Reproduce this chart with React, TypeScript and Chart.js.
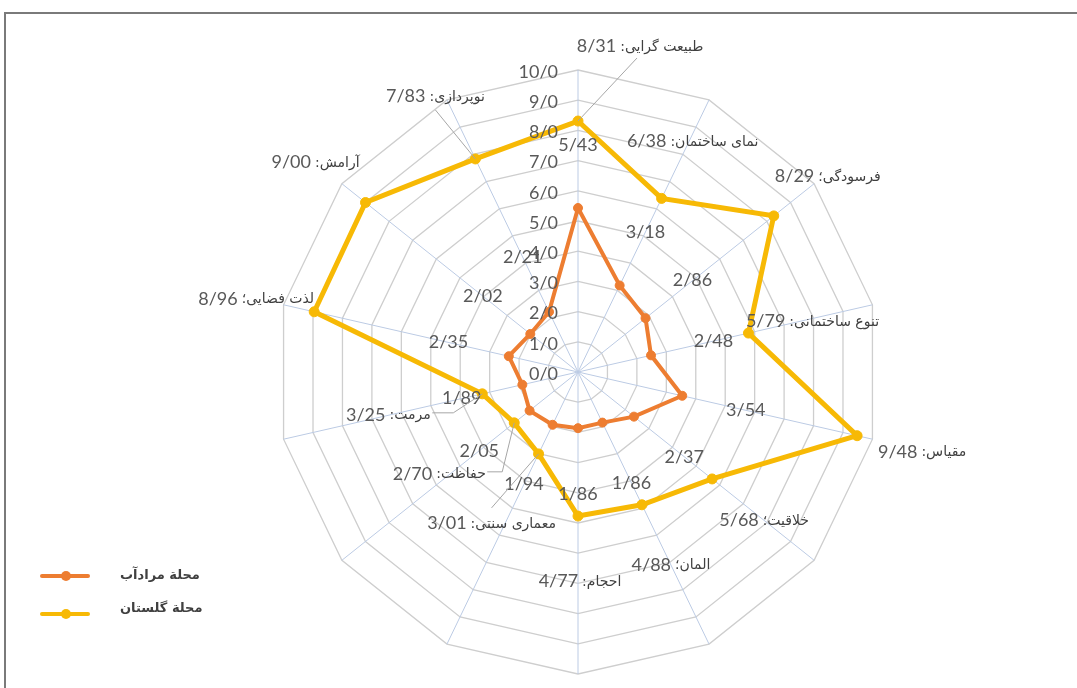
import React, { useEffect, useRef } from 'react';
import { Chart, registerables } from 'chart.js';

Chart.register(...registerables);

// ---------- data ----------
const categories = [
  'طبیعت گرایی',
  'نمای ساختمان',
  'فرسودگی',
  'تنوع ساختمانی',
  'مقیاس',
  'خلاقیت',
  'المان',
  'احجام',
  'معماری سنتی',
  'حفاظت',
  'مرمت',
  'لذت فضایی',
  'آرامش',
  'نوپردازی',
];
const separators = [':', ':', '؛', ':', ':', '؛', '؛', ':', ':', ':', ':', '؛', ':', ':'];
const moradabValues = [5.43, 3.18, 2.86, 2.48, 3.54, 2.37, 1.86, 1.86, 1.94, 2.05, 1.89, 2.35, 2.02, 2.21];
const golestanValues = [8.31, 6.38, 8.29, 5.79, 9.48, 5.68, 4.88, 4.77, 3.01, 2.7, 3.25, 8.96, 9.0, 7.83];
const tickValues = [0, 1, 2, 3, 4, 5, 6, 7, 8, 9, 10];
const seriesNames = ['محلة مرادآب', 'محلة گلستان'];

// ---------- label layout (text placement only) ----------
const moradabLabelRadius = [7.5, 5.15, 4.85, 4.6, 5.7, 4.5, 4.08, 4.04, 4.12, 4.18, 3.95, 4.4, 4.03, 4.22];
const golestanLabelOffset: [number, number][] = [
  [62, -75], [31, -57], [54, -40], [64, -12], [65, 16], [52, 41], [29, 60],
  [2, 65], [-47, 69], [-75, 51], [-94, 21], [-58, -13], [-50, -40], [-40, -63],
];
const leaders: Record<number, [number, number][]> = {
  0: [[-3, 12]],
  13: [[0, 14]],
  8: [[0, -15]],
  9: [[48, -2], [63, -2]],
  10: [[44, -2], [65, -2]],
};

const ORANGE = '#ED7D31';
const GOLD = '#F7B905';
const NUM_FONT = '18px Lato, "DejaVu Sans", sans-serif';
const AR_FONT = '14px "DejaVu Sans", sans-serif';
const TEXT = '#595959';

const fmt1 = (v: number) => v.toFixed(1).replace('.', '/');
const fmt2 = (v: number) => v.toFixed(2).replace('.', '/');

function drawMixed(ctx: CanvasRenderingContext2D, num: string, ar: string, cx: number, cy: number) {
  ctx.font = NUM_FONT;
  ctx.direction = 'ltr';
  const wn = ctx.measureText(num).width;
  ctx.font = AR_FONT;
  ctx.direction = 'rtl';
  const wa = ctx.measureText(ar).width;
  const gap = 4;
  const total = wn + gap + wa;
  const left = cx - total / 2;
  ctx.textBaseline = 'middle';
  ctx.font = NUM_FONT;
  ctx.direction = 'ltr';
  ctx.textAlign = 'left';
  ctx.fillStyle = TEXT;
  ctx.fillText(num, left, cy);
  ctx.font = AR_FONT;
  ctx.direction = 'rtl';
  ctx.textAlign = 'right';
  ctx.fillStyle = '#404040';
  ctx.fillText(ar, left + total, cy + 1);
  ctx.direction = 'ltr';
}

const labelPlugin = {
  id: 'customLabels',
  afterDatasetsDraw(chart: any) {
    const ctx: CanvasRenderingContext2D = chart.ctx;
    const scale = chart.scales.r;
    ctx.save();

    // tick labels
    ctx.font = NUM_FONT;
    ctx.fillStyle = TEXT;
    ctx.textAlign = 'right';
    ctx.textBaseline = 'middle';
    tickValues.forEach((v) => {
      const r = scale.getDistanceFromCenterForValue(v);
      ctx.fillText(fmt1(v), scale.xCenter - 20, scale.yCenter - r + 2);
    });

    // orange series labels along axes
    moradabValues.forEach((v, i) => {
      const p = scale.getPointPositionForValue(i, moradabLabelRadius[i]);
      ctx.font = NUM_FONT;
      ctx.fillStyle = TEXT;
      ctx.textAlign = 'center';
      ctx.textBaseline = 'middle';
      ctx.fillText(fmt2(v), p.x, p.y);
    });

    // gold series labels
    const meta = chart.getDatasetMeta(1);
    golestanValues.forEach((v, i) => {
      const pt = meta.data[i];
      const [dx, dy] = golestanLabelOffset[i];
      const cx = pt.x + dx;
      const cy = pt.y + dy;
      const lead = leaders[i];
      if (lead) {
        ctx.beginPath();
        ctx.strokeStyle = '#A6A6A6';
        ctx.lineWidth = 1;
        ctx.moveTo(cx + lead[0][0], cy + lead[0][1]);
        for (let k = 1; k < lead.length; k++) ctx.lineTo(cx + lead[k][0], cy + lead[k][1]);
        ctx.lineTo(pt.x, pt.y);
        ctx.stroke();
      }
      drawMixed(ctx, fmt2(v), categories[i] + separators[i], cx, cy);
    });

    // legend
    const legendItems = [
      { color: ORANGE, y: 576, ty: 576 },
      { color: GOLD, y: 614, ty: 609 },
    ];
    legendItems.forEach((it, k) => {
      ctx.beginPath();
      ctx.strokeStyle = it.color;
      ctx.lineWidth = 4;
      ctx.lineCap = 'round';
      ctx.moveTo(42, it.y);
      ctx.lineTo(88, it.y);
      ctx.stroke();
      ctx.beginPath();
      ctx.fillStyle = it.color;
      ctx.arc(66, it.y, 5, 0, Math.PI * 2);
      ctx.fill();
      ctx.font = 'bold 13px "DejaVu Sans", sans-serif';
      ctx.direction = 'rtl';
      ctx.textAlign = 'left';
      ctx.textBaseline = 'middle';
      ctx.fillStyle = '#404040';
      ctx.fillText(seriesNames[k], 120, it.ty);
      ctx.direction = 'ltr';
    });

    ctx.restore();
  },
};

export default function App() {
  const ref = useRef<HTMLCanvasElement>(null);
  useEffect(() => {
    if (!ref.current) return;
    const chart = new Chart(ref.current, {
      type: 'radar',
      data: {
        labels: categories,
        datasets: [
          {
            label: seriesNames[0],
            data: moradabValues,
            borderColor: ORANGE,
            backgroundColor: ORANGE,
            pointBackgroundColor: ORANGE,
            pointBorderColor: ORANGE,
            borderWidth: 4,
            pointRadius: 4.5,
            pointBorderWidth: 1,
            fill: false,
          },
          {
            label: seriesNames[1],
            data: golestanValues,
            borderColor: GOLD,
            backgroundColor: GOLD,
            pointBackgroundColor: GOLD,
            pointBorderColor: GOLD,
            borderWidth: 5,
            pointRadius: 5,
            pointBorderWidth: 1,
            fill: false,
          },
        ],
      },
      options: {
        responsive: false,
        animation: false,
        devicePixelRatio: 1,
        layout: { padding: { left: 276, right: 197, top: 70, bottom: 14 } },
        plugins: { legend: { display: false }, tooltip: { enabled: false } },
        elements: { line: { tension: 0 } },
        scales: {
          r: {
            min: 0,
            max: 10,
            ticks: { stepSize: 1, display: false },
            pointLabels: { display: false },
            grid: { color: '#CECECE', lineWidth: 1.3 },
            angleLines: { color: '#BCCBE4', lineWidth: 1 },
          },
        },
      },
      plugins: [labelPlugin],
    } as any);
    return () => chart.destroy();
  }, []);

  return (
    <div style={{ position: 'fixed', left: 0, top: 0, width: 1077, height: 688, background: '#fff', overflow: 'hidden' }}>
      <div
        style={{
          position: 'absolute',
          left: 4,
          top: 12,
          right: -10,
          bottom: -10,
          borderLeft: '2px solid #7a7a7a',
          borderTop: '2px solid #7a7a7a',
        }}
      />
      <canvas ref={ref} width={1077} height={688} style={{ position: 'absolute', left: 0, top: 0 }} />
    </div>
  );
}
